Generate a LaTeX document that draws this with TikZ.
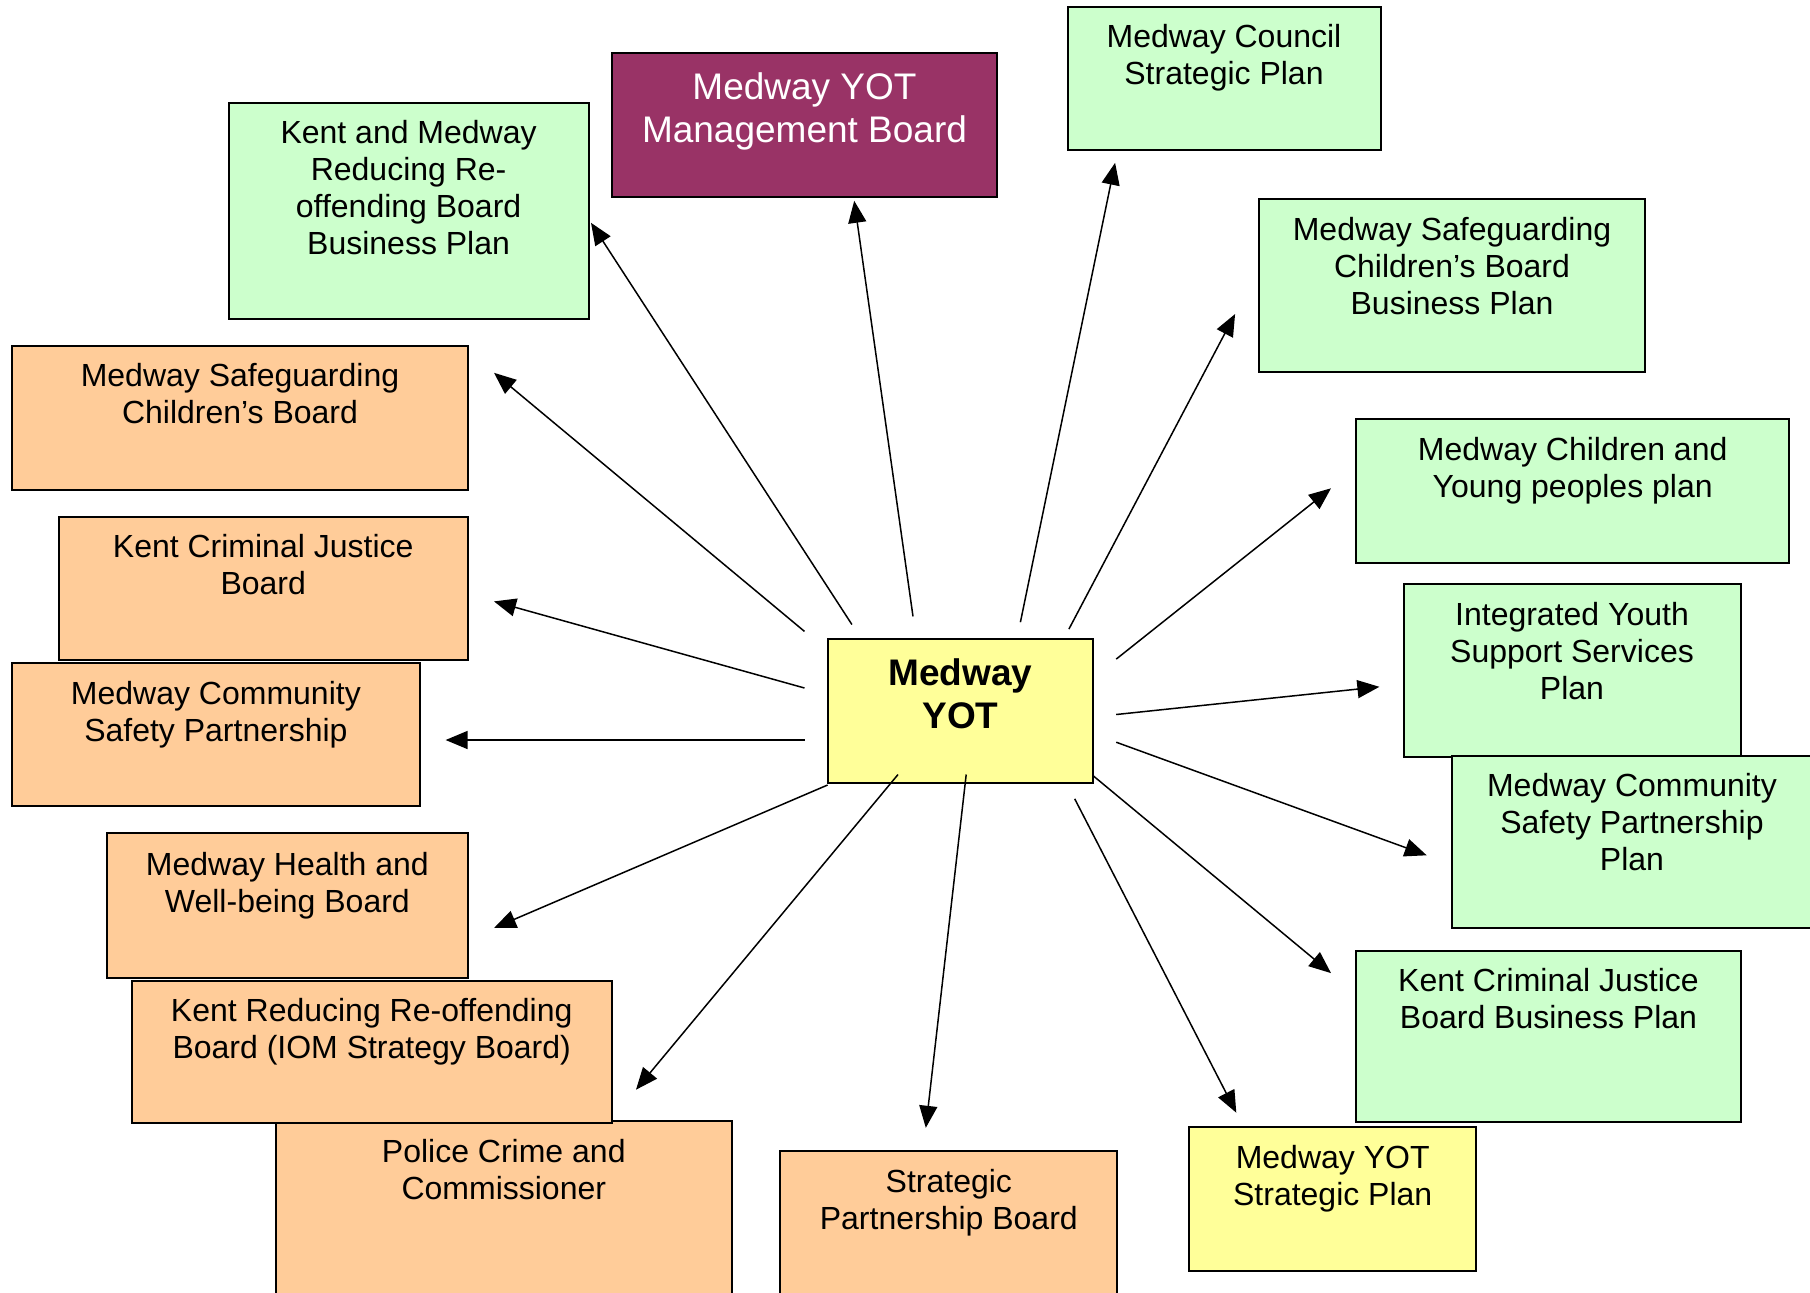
\documentclass[tikz,border=0pt]{standalone}
\usepackage{fontspec}
\setmainfont{Liberation Sans}
\usetikzlibrary{arrows.meta}
\definecolor{gfill}{HTML}{CCFFCC}
\definecolor{ofill}{HTML}{FFCC99}
\definecolor{yfill}{HTML}{FFFF99}
\definecolor{mfill}{HTML}{993366}
\newcommand\mybox[6]{\node[#6, minimum width={(#4-#2)*0.5pt}, minimum height={(#5-#3)*0.5pt}] (#1) at ({(#2+#4)/2},{(#3+#5)/2}) {};}
\tikzset{
  boxbase/.style={draw=black, line width=1pt, rectangle, inner sep=0pt, outer sep=0pt},
  gbox/.style={boxbase, fill=gfill},
  obox/.style={boxbase, fill=ofill},
  ybox/.style={boxbase, fill=yfill},
  mbox/.style={boxbase, fill=mfill},
  txt/.style={align=center, inner sep=0pt, font=\fontsize{16pt}{18.5pt}\selectfont},
  bigtxt/.style={align=center, inner sep=0pt, font=\fontsize{18.5pt}{21.4pt}\selectfont},
  arr/.style={line width=0.75pt, -{Triangle[length=11pt,width=9pt]}}
}
\begin{document}
\begin{tikzpicture}[x=0.5pt,y=-0.5pt]
\clip (0,0) rectangle (1810,1292);
\fill[white] (0,0) rectangle (1810,1292);
% boxes
\mybox{kmrr}{228.6}{102.7}{588.7}{318.6}{gbox}
\mybox{mgmt}{612}{53}{997}{197}{mbox}
\mybox{council}{1067.7}{6.9}{1380.5}{150}{gbox}
\mybox{mscbp}{1259.3}{198.5}{1644.9}{371.7}{gbox}
\mybox{cyp}{1356.3}{419}{1789.2}{563.3}{gbox}
\mybox{iyss}{1403.6}{584}{1740.7}{757.2}{gbox}
\mybox{csppl}{1452}{756}{1814}{928}{gbox}
\mybox{kcjbp}{1356.3}{951.1}{1740.7}{1122}{gbox}
\mybox{yotsp}{1189}{1126.6}{1476.4}{1270.9}{ybox}
\mybox{spb}{780.3}{1151}{1117.4}{1300}{obox}
\mybox{pcc}{275.9}{1121}{731.8}{1300}{obox}
\mybox{krr}{131.6}{981.2}{611.8}{1123.1}{obox}
\mybox{hwb}{107.4}{833.4}{467.5}{977.7}{obox}
\mybox{csp}{11.5}{662.6}{420.2}{805.7}{obox}
\mybox{kcjb}{58.9}{517.1}{467.5}{660.3}{obox}
\mybox{mscb}{11.7}{345.7}{468}{490}{obox}
\mybox{yot}{828}{639}{1093}{783}{ybox}
% texts
\node[txt] (kmrr-t) at (408.6,188) {Kent and Medway\\Reducing Re-\\offending Board\\Business Plan};
\node[bigtxt, text=white] (mgmt-t) at (804.5,111.3) {Medway YOT\\Management Board};
\node[txt] (council-t) at (1224,58) {Medway Council\\Strategic Plan};
\node[txt] (mscbp-t) at (1452,266) {Medway Safeguarding\\Children’s Board\\Business Plan};
\node[txt] (cyp-t) at (1572.7,471) {Medway Children and\\Young peoples plan};
\node[txt] (iyss-t) at (1572,651) {Integrated Youth\\Support Services\\Plan};
\node[txt] (csppl-t) at (1632,822) {Medway Community\\Safety Partnership\\Plan};
\node[txt] (kcjbp-t) at (1548.5,998.5) {Kent Criminal Justice\\Board Business Plan};
\node[txt] (yotsp-t) at (1332.7,1178.5) {Medway YOT\\Strategic Plan};
\node[txt] (spb-t) at (948.8,1202.5) {Strategic\\Partnership Board};
\node[txt] (pcc-t) at (503.8,1170) {Police Crime and\\Commissioner};
\node[txt] (krr-t) at (371.7,1032) {Kent Reducing Re-offending\\Board (IOM Strategy Board)};
\node[txt] (hwb-t) at (287.4,885.5) {Medway Health and\\Well-being Board};
\node[txt] (csp-t) at (215.9,714.5) {Medway Community\\Safety Partnership};
\node[txt] (kcjb-t) at (263.2,564.5) {Kent Criminal Justice\\Board};
\node[txt] (mscb-t) at (240,393.6) {Medway Safeguarding\\Children’s Board};
\node[bigtxt, font=\bfseries\fontsize{18.5pt}{21.5pt}\selectfont] (yot-t) at (960.5,694) {Medway\\YOT};
% arrow end coordinates
\coordinate (s1) at (851.9,624.5);  \coordinate (e1) at (591,222.8);
\coordinate (s2) at (913,616.4);    \coordinate (e2) at (854.2,200.8);
\coordinate (s3) at (1020.4,622.2); \coordinate (e3) at (1115.1,162.8);
\coordinate (s4) at (1068.9,629.1); \coordinate (e4) at (1235.1,314);
\coordinate (s5) at (1116.2,659.1); \coordinate (e5) at (1331,488.3);
\coordinate (s6) at (1116.2,714.5); \coordinate (e6) at (1379.4,686.8);
\coordinate (s7) at (1116.2,742.2); \coordinate (e7) at (1426.7,855.3);
\coordinate (s8) at (1093.1,775.7); \coordinate (e8) at (1331,973.1);
\coordinate (s9) at (1074.7,798.8); \coordinate (e9) at (1236.3,1112.7);
\coordinate (s10) at (966.2,774.5); \coordinate (e10) at (925.8,1127.8);
\coordinate (s11) at (898,774.5);   \coordinate (e11) at (636,1089.7);
\coordinate (s12) at (827.6,785);   \coordinate (e12) at (494,928);
\coordinate (s13) at (804.5,740);   \coordinate (e13) at (445.6,740);
\coordinate (s14) at (804.5,688);   \coordinate (e14) at (494,601.4);
\coordinate (s15) at (804.5,631.4); \coordinate (e15) at (494,372.8);
\foreach \i in {1,...,15} { \draw[arr] (s\i) -- (e\i); }
\end{tikzpicture}
\end{document}
